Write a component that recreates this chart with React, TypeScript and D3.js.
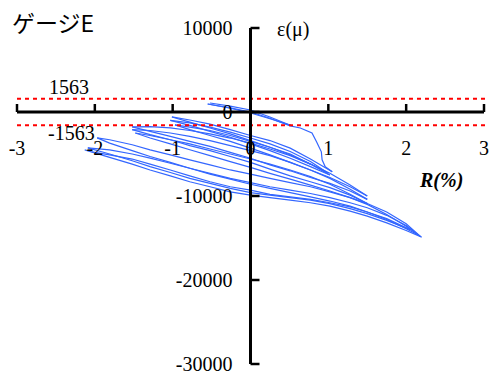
import React from "react";
import * as d3 from "d3";

const xTicks = [-3, -2, -1, 0, 1, 2, 3];
const yTicks = [10000, 0, -10000, -20000, -30000];
const limitValue = 1563;

// Series: [R(%), strain(μ)]
const s1 = [[-0.52, 1070], [-0.26, 700], [0, 240], [0.25, -590], [0.52, -1600]];
const s2 = [[0.52, -1600], [0.25, -800], [0, -120], [-0.26, 450], [-0.55, 950]];
const s3 = [[-0.55, 950], [-0.26, 500], [0, 0], [0.25, -750], [0.51, -1660], [0.64, -1900], [0.79, -2490], [0.85, -3560], [0.91, -4740], [0.92, -5690], [0.96, -6520], [1.05, -7120]];
const s4 = [[1.05, -7120], [0.77, -5600], [0.51, -4300], [0.25, -3400], [0, -2800], [-0.26, -2100], [-0.52, -1450], [-0.78, -950], [-1.01, -590]];
const s5 = [[-1.01, -590], [-0.78, -1200], [-0.52, -1900], [-0.26, -2600], [0, -3400], [0.25, -4200], [0.51, -5100], [0.77, -6200], [1.0, -7300]];
const s6 = [[1.0, -7300], [0.77, -5900], [0.51, -4700], [0.25, -3800], [0, -3100], [-0.26, -2400], [-0.52, -1800], [-0.78, -1300], [-1.03, -1000]];
const s7 = [[-1.03, -1000], [-0.78, -1600], [-0.52, -2300], [-0.26, -3000], [0, -3800], [0.25, -4600], [0.51, -5500], [0.77, -6500], [1.02, -7500]];
const s8 = [[1.02, -7500], [0.77, -6200], [0.51, -5000], [0.25, -4200], [0, -3500], [-0.26, -2800], [-0.52, -2200], [-0.78, -1800], [-0.97, -1540]];
const s9 = [[-0.97, -1540], [-0.78, -2100], [-0.52, -2800], [-0.26, -3500], [0, -4300], [0.25, -5100], [0.51, -6000], [0.77, -6900], [1.02, -7800], [1.28, -8900], [1.5, -10000]];
const s10 = [[1.5, -10000], [1.28, -8700], [1.02, -7300], [0.77, -6200], [0.51, -5200], [0.25, -4400], [0, -3700], [-0.26, -3100], [-0.52, -2600], [-0.78, -2200], [-1.03, -1900], [-1.29, -1750], [-1.52, -1780]];
const s11 = [[-1.52, -1780], [-1.29, -2300], [-1.03, -2900], [-0.78, -3500], [-0.52, -4100], [-0.26, -4800], [0, -5500], [0.25, -6300], [0.51, -7000], [0.77, -7800], [1.02, -8500], [1.28, -9400], [1.5, -10400]];
const s12 = [[1.5, -10400], [1.28, -9200], [1.02, -7900], [0.77, -6900], [0.51, -6000], [0.25, -5200], [0, -4600], [-0.26, -4000], [-0.52, -3400], [-0.78, -2900], [-1.03, -2500], [-1.29, -2200], [-1.52, -2100]];
const s13 = [[-1.52, -2100], [-1.29, -2700], [-1.03, -3300], [-0.78, -4000], [-0.52, -4600], [-0.26, -5300], [0, -6000], [0.25, -6800], [0.51, -7600], [0.77, -8300], [1.02, -9000], [1.28, -9900], [1.5, -10900]];
const s14 = [[1.5, -10900], [1.28, -9800], [1.02, -8600], [0.77, -7700], [0.51, -6900], [0.25, -6200], [0, -5600], [-0.26, -5000], [-0.52, -4400], [-0.78, -3800], [-1.03, -3300], [-1.29, -2800], [-1.48, -2500]];
const s15 = [[-1.48, -2500], [-1.29, -3100], [-1.03, -3800], [-0.78, -4500], [-0.52, -5200], [-0.26, -5900], [0, -6600], [0.25, -7300], [0.51, -8000], [0.77, -8700], [1.02, -9400], [1.28, -10200], [1.5, -11000], [1.75, -12200], [2.0, -13600], [2.18, -14800]];
const s16 = [[2.18, -14800], [2.0, -13300], [1.75, -11900], [1.5, -10900], [1.28, -10200], [1.02, -9500], [0.77, -8900], [0.51, -8400], [0.25, -7900], [0, -7400], [-0.26, -6900], [-0.52, -6300], [-0.78, -5700], [-1.03, -5100], [-1.29, -4500], [-1.52, -3900], [-1.81, -3300], [-1.97, -3080]];
const s17 = [[-1.97, -3080], [-1.81, -3700], [-1.52, -4600], [-1.29, -5300], [-1.03, -6000], [-0.78, -6700], [-0.52, -7400], [-0.26, -8000], [0, -8600], [0.25, -9100], [0.51, -9600], [0.77, -10100], [1.02, -10600], [1.28, -11200], [1.5, -11900], [1.75, -12800], [2.0, -13900], [2.15, -14600]];
const s18 = [[2.15, -14600], [2.0, -13500], [1.75, -12300], [1.5, -11400], [1.28, -10800], [1.02, -10200], [0.77, -9700], [0.51, -9300], [0.25, -8900], [0, -8400], [-0.26, -7900], [-0.52, -7300], [-0.78, -6700], [-1.03, -6100], [-1.29, -5500], [-1.52, -5000], [-1.81, -4500], [-2.09, -4270]];
const s19 = [[-2.09, -4270], [-1.81, -5000], [-1.52, -5800], [-1.29, -6500], [-1.03, -7200], [-0.78, -7900], [-0.52, -8500], [-0.26, -9100], [0, -9600], [0.25, -9900], [0.51, -10200], [0.77, -10500], [1.02, -10900], [1.28, -11500], [1.5, -12100], [1.75, -12900], [2.05, -14000]];
const s20 = [[2.05, -14000], [1.75, -12700], [1.5, -11900], [1.28, -11300], [1.02, -10800], [0.77, -10400], [0.51, -10100], [0.25, -9800], [0, -9300], [-0.26, -8900], [-0.52, -8300], [-0.78, -7600], [-1.03, -6900], [-1.29, -6200], [-1.52, -5600], [-1.81, -5100], [-2.04, -4744]];
const s21 = [[-2.13, -4507], [-1.81, -5400], [-1.52, -6200], [-1.29, -6900], [-1.03, -7600], [-0.78, -8300], [-0.52, -8900], [-0.26, -9500], [0, -9900], [0.25, -10200], [0.51, -10500], [0.77, -10800], [1.02, -11200], [1.28, -11800], [1.5, -12400], [1.75, -13200], [2.0, -14100], [2.2, -14900]];

const series = [s1, s2, s3, s4, s5, s6, s7, s8, s9, s10, s11, s12, s13, s14, s15, s16, s17, s18, s19, s20, s21];

const W = 489;
const H = 374;
const serifStyle = { fontFamily: '"Liberation Serif", "DejaVu Serif", serif', fontSize: "20px" };

export default function App() {
  const x = d3.scaleLinear().domain([-3, 3]).range([17, 484]);
  const y = d3.scaleLinear().domain([10000, -30000]).range([28, 364]);
  const line = d3
    .line<number[]>()
    .x((d) => x(d[0]))
    .y((d) => y(d[1]));
  const x0 = x(0);
  const y0 = y(0);

  return (
    <svg
      width={W}
      height={H}
      style={{ position: "absolute", left: 0, top: 0, background: "#fff" }}
    >
      <rect width={W} height={H} fill="#fff" />
      <g fill="none" stroke="#3366ff" strokeWidth={1.2}>
        {series.map((s, i) => (
          <path key={i} d={line(s as number[][]) || ""} />
        ))}
      </g>
      {[limitValue, -limitValue].map((v) => (
        <line
          key={v}
          x1={17}
          x2={487}
          y1={y(v)}
          y2={y(v)}
          stroke="#ff0000"
          strokeWidth={2}
          strokeDasharray="4,4"
        />
      ))}
      {/* x axis */}
      <line x1={x(-3)} x2={x(3)} y1={y0} y2={y0} stroke="#000" strokeWidth={3} />
      {xTicks.map((t) => (
        <line key={"xt" + t} x1={x(t)} x2={x(t)} y1={y0} y2={y0 - 8} stroke="#000" strokeWidth={2.5} />
      ))}
      {/* y axis */}
      <line x1={x0} x2={x0} y1={y(10000)} y2={y(-30000)} stroke="#000" strokeWidth={3} />
      {yTicks.map((t) => (
        <line key={"yt" + t} x1={x0} x2={x0 + 9} y1={y(t)} y2={y(t)} stroke="#000" strokeWidth={2.5} />
      ))}
      <g style={serifStyle} fill="#000">
        {xTicks.map((t) => (
          <text key={"xl" + t} x={x(t)} y={y0 + 43} textAnchor="middle">
            {t < 0 ? "-" + Math.abs(t) : String(t)}
          </text>
        ))}
        {yTicks.map((t) => (
          <text key={"yl" + t} x={x0 - 18} y={y(t) + 7} textAnchor="end">
            {t < 0 ? "-" + Math.abs(t) : String(t)}
          </text>
        ))}
        <text x={49} y={y(limitValue) - 5}>{String(limitValue)}</text>
        <text x={48} y={y(-limitValue) + 15}>{"-" + limitValue}</text>
        <text x={277} y={36}>ε(μ)</text>
        <text x={420} y={187} style={{ fontWeight: "bold", fontStyle: "italic" }}>R(%)</text>
      </g>
      <text
        x={12}
        y={32}
        style={{ fontFamily: '"Noto Sans CJK JP", "Noto Sans", sans-serif', fontSize: "23px" }}
        fill="#000"
      >
        ゲージE
      </text>
    </svg>
  );
}
